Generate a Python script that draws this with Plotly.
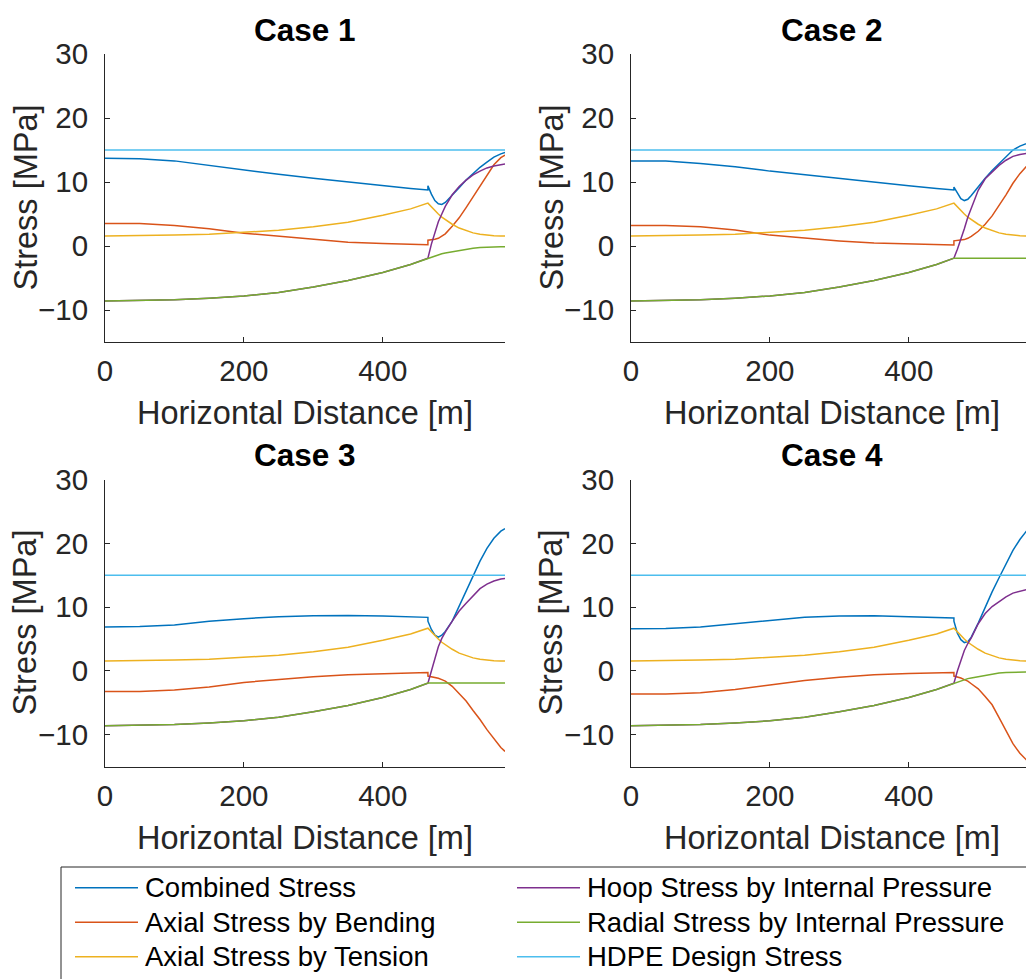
import plotly.graph_objects as go

# ---------------- data ----------------
X_DIST = [0, 50, 100, 150, 200, 250, 300, 350, 400, 440, 465, 465, 470, 475, 480,
          485, 490, 500, 510, 520, 530, 540, 550, 560, 570, 576]

CASES = ["Case 1", "Case 2", "Case 3", "Case 4"]
SERIES = ["Combined Stress", "Axial Stress by Bending", "Axial Stress by Tension",
          "Hoop Stress by Internal Pressure", "Radial Stress by Internal Pressure",
          "HDPE Design Stress"]

COMB_1 = [13.7, 13.65, 13.3, 12.6, 11.8, 11.2, 10.6, 10.0, 9.4, 9.0, 8.75, 9.4, 8.1, 7.1, 6.6,
          6.5, 6.8, 7.9, 9.1, 10.3, 11.3, 12.3, 13.1, 13.9, 14.4, 14.6]
COMB_2 = [13.3, 13.3, 12.9, 12.4, 11.7, 11.1, 10.5, 9.9, 9.4, 9.0, 8.75, 9.2, 8.2, 7.4, 7.1,
          7.3, 7.9, 9.3, 10.6, 11.8, 12.9, 14.0, 15.0, 15.6, 16.1, 16.3]
COMB_3 = [6.9, 6.95, 7.2, 7.8, 8.2, 8.5, 8.65, 8.7, 8.6, 8.5, 8.4, 7.8, 6.5, 5.6, 5.3,
          5.6, 6.2, 7.8, 10.2, 12.6, 14.9, 17.2, 19.2, 20.8, 21.9, 22.3]
COMB_4 = [6.6, 6.65, 6.9, 7.4, 8.0, 8.4, 8.6, 8.65, 8.5, 8.4, 8.3, 7.8, 5.9, 4.9, 4.45,
          4.6, 5.3, 7.5, 10.0, 12.4, 14.6, 16.8, 18.9, 20.6, 22.0, 22.5]

BEND_1 = [3.5, 3.5, 3.2, 2.7, 2.0, 1.5, 1.0, 0.6, 0.4, 0.25, 0.2, 0.9, 0.95, 1.05, 1.2,
          1.5, 1.9, 3.1, 4.4, 6.0, 7.7, 9.5, 11.2, 12.7, 13.8, 14.2]
BEND_2 = [3.2, 3.2, 3.0, 2.5, 1.7, 1.2, 0.8, 0.45, 0.3, 0.2, 0.15, 0.8, 0.85, 0.9, 1.0,
          1.2, 1.5, 2.3, 3.4, 4.7, 6.3, 8.0, 9.8, 11.3, 12.5, 13.0]
BEND_3 = [-3.2, -3.2, -3.0, -2.5, -1.8, -1.3, -0.9, -0.6, -0.4, -0.3, -0.25, -0.8, -0.9, -1.0, -1.15,
          -1.35, -1.6, -2.4, -3.5, -4.7, -6.2, -7.6, -9.2, -10.7, -12.0, -12.6]
BEND_4 = [-3.6, -3.6, -3.4, -2.9, -2.2, -1.5, -1.0, -0.6, -0.4, -0.3, -0.25, -0.8, -0.9, -1.1, -1.35,
          -1.6, -2.0, -2.8, -4.0, -5.3, -7.3, -9.4, -11.4, -12.9, -14.0, -14.4]

TENSION = [1.55, 1.58, 1.7, 1.85, 2.1, 2.45, 3.0, 3.7, 4.8, 5.8, 6.7, 6.7, 6.1, 5.5, 5.0,
           4.5, 4.1, 3.4, 2.8, 2.4, 2.05, 1.85, 1.7, 1.6, 1.56, 1.55]

HOOP_1 = [-8.6, -8.55, -8.4, -8.15, -7.8, -7.25, -6.4, -5.4, -4.15, -2.9, -1.9, -1.9, 0.3, 2.2, 3.8,
          5.0, 6.2, 8.0, 9.3, 10.3, 11.1, 11.7, 12.2, 12.5, 12.75, 12.8]
HOOP_2 = [-8.6, -8.55, -8.4, -8.15, -7.8, -7.25, -6.4, -5.4, -4.15, -2.9, -1.9, -1.9, -0.5, 1.0, 2.7,
          4.5, 6.0, 8.7, 10.5, 11.6, 12.6, 13.4, 14.0, 14.3, 14.5, 14.55]
HOOP_3 = [-8.6, -8.55, -8.4, -8.15, -7.8, -7.25, -6.4, -5.4, -4.15, -2.9, -1.9, -1.9, 0.0, 1.9, 3.8,
          5.1, 6.1, 7.8, 9.4, 10.6, 11.8, 12.9, 13.6, 14.1, 14.4, 14.5]
HOOP_4 = [-8.6, -8.55, -8.4, -8.15, -7.8, -7.25, -6.4, -5.4, -4.15, -2.9, -1.9, -1.9, 0.0, 1.7, 3.2,
          4.3, 5.2, 7.4, 9.0, 10.1, 10.9, 11.6, 12.2, 12.5, 12.75, 12.8]

RADIAL_1 = [-8.6, -8.55, -8.4, -8.15, -7.8, -7.25, -6.4, -5.4, -4.15, -2.9, -1.9, -1.9, -1.7, -1.5, -1.35,
            -1.2, -1.1, -0.9, -0.65, -0.5, -0.35, -0.25, -0.17, -0.12, -0.1, -0.1]
RADIAL_2 = [-8.6, -8.55, -8.4, -8.15, -7.8, -7.25, -6.4, -5.4, -4.15, -2.9, -1.9, -1.9, -1.9, -1.9, -1.9,
            -1.9, -1.9, -1.9, -1.9, -1.9, -1.9, -1.9, -1.9, -1.9, -1.9, -1.9]
RADIAL_3 = [-8.6, -8.55, -8.4, -8.15, -7.8, -7.25, -6.4, -5.4, -4.15, -2.9, -1.9, -1.9, -1.9, -1.9, -1.9,
            -1.9, -1.9, -1.9, -1.9, -1.9, -1.9, -1.9, -1.9, -1.9, -1.9, -1.9]
RADIAL_4 = [-8.6, -8.55, -8.4, -8.15, -7.8, -7.25, -6.4, -5.4, -4.15, -2.9, -1.9, -1.9, -1.7, -1.5, -1.35,
            -1.2, -1.1, -0.9, -0.65, -0.45, -0.32, -0.24, -0.18, -0.15, -0.13, -0.12]

HDPE_DESIGN = 15
HDPE_X = [0, 576]

Y_TICKS = [-10, 0, 10, 20, 30]
X_TICKS = [0, 200, 400]

# ---------------- styling ----------------
COLORS = ["#0072BD", "#D95319", "#EDB120", "#7E2F8E", "#77AC30", "#4DBEEE"]
FONT = "Liberation Sans, Arial, Helvetica, sans-serif"
AX_COLOR = "#262626"
W, H = 1026, 979

def px(p):
    return p / W

def py(p):
    return 1 - p / H

case_data = [
    (COMB_1, BEND_1, TENSION, HOOP_1, RADIAL_1),
    (COMB_2, BEND_2, TENSION, HOOP_2, RADIAL_2),
    (COMB_3, BEND_3, TENSION, HOOP_3, RADIAL_3),
    (COMB_4, BEND_4, TENSION, HOOP_4, RADIAL_4),
]

# panel geometry in pixels: (axis left, axis right, axis top, axis bottom, x-range max, title center x)
PANELS = [
    (105, 505, 54, 342, 576, 304.5),
    (631, 1026, 54, 342, (1026 - 631) / (400 / 576), 831.5),
    (105, 505, 479.5, 766.7, 576, 304.5),
    (631, 1026, 479.5, 766.7, (1026 - 631) / (400 / 576), 831.5),
]

fig = go.Figure()
annotations = []
shapes = []

for i, (series, panel) in enumerate(zip(case_data, PANELS)):
    n = i + 1
    xa = "x" if n == 1 else f"x{n}"
    ya = "y" if n == 1 else f"y{n}"
    for s_idx, vals in enumerate(series):
        fig.add_trace(go.Scatter(x=X_DIST, y=vals, mode="lines", name=SERIES[s_idx],
                                 line=dict(color=COLORS[s_idx], width=1.5),
                                 xaxis=xa, yaxis=ya, showlegend=False, hoverinfo="skip"))
    fig.add_trace(go.Scatter(x=HDPE_X, y=[HDPE_DESIGN] * len(HDPE_X), mode="lines",
                             name=SERIES[5], line=dict(color=COLORS[5], width=1.5),
                             xaxis=xa, yaxis=ya, showlegend=False, hoverinfo="skip"))

    l, r, t, b, xmax, tcx = panel
    axis_common = dict(showline=True, linecolor=AX_COLOR, linewidth=1, ticks="inside",
                       ticklen=5, tickcolor=AX_COLOR, tickwidth=1, showgrid=False,
                       zeroline=False, automargin=False,
                       tickfont=dict(family=FONT, size=29.5, color=AX_COLOR))
    fig.layout[("xaxis" if n == 1 else f"xaxis{n}")] = dict(
        domain=[px(l), min(px(r), 1.0)], range=[0, xmax], anchor=ya,
        tickvals=X_TICKS, ticklabelstandoff=3, **axis_common)
    fig.layout[("yaxis" if n == 1 else f"yaxis{n}")] = dict(
        domain=[py(b), py(t)], range=[-15, 30], anchor=xa,
        tickvals=Y_TICKS, ticklabelstandoff=10, **axis_common)

    # title
    annotations.append(dict(text=f"<b>{CASES[i]}</b>", x=px(tcx), y=py(t - 24.5), xref="paper",
                            yref="paper", xanchor="center", yanchor="middle", showarrow=False,
                            font=dict(family=FONT, size=31.5, color="#000000")))
    # x-axis title
    annotations.append(dict(text="Horizontal Distance [m]", x=px(tcx), y=py(b + 71.5),
                            xref="paper", yref="paper", xanchor="center", yanchor="middle",
                            showarrow=False, font=dict(family=FONT, size=32.5, color=AX_COLOR)))
    # y-axis title
    annotations.append(dict(text="Stress [MPa]", x=px(l - 79.5), y=py((t + b) / 2),
                            xref="paper", yref="paper", xanchor="center", yanchor="middle",
                            textangle=-90, showarrow=False,
                            font=dict(family=FONT, size=32.5, color=AX_COLOR)))

# ---------------- legend (drawn as real text + line samples) ----------------
shapes.append(dict(type="rect", xref="paper", yref="paper", x0=px(61), x1=1.05,
                   y0=-0.05, y1=py(867), line=dict(color=AX_COLOR, width=1),
                   fillcolor="rgba(255,255,255,0)"))
LEG_ROWS = [887.7, 922.3, 956.7]
LEG_COLS = [(75, 138, 143), (517, 580, 585)]
for k, name in enumerate(SERIES):
    col = k // 3
    row = k % 3
    x0, x1, xt = LEG_COLS[col]
    yy = LEG_ROWS[row]
    shapes.append(dict(type="line", xref="paper", yref="paper", x0=px(x0), x1=px(x1),
                       y0=py(yy), y1=py(yy), line=dict(color=COLORS[k], width=1.5)))
    annotations.append(dict(text=name, x=px(xt), y=py(yy), xref="paper", yref="paper",
                            xanchor="left", yanchor="middle", showarrow=False,
                            font=dict(family=FONT, size=27.5, color="#000000")))

fig.update_layout(width=W, height=H, margin=dict(l=0, r=0, t=0, b=0, autoexpand=False),
                  paper_bgcolor="white", plot_bgcolor="white",
                  annotations=annotations, shapes=shapes, showlegend=False,
                  font=dict(family=FONT))

fig.write_html("out.html")
